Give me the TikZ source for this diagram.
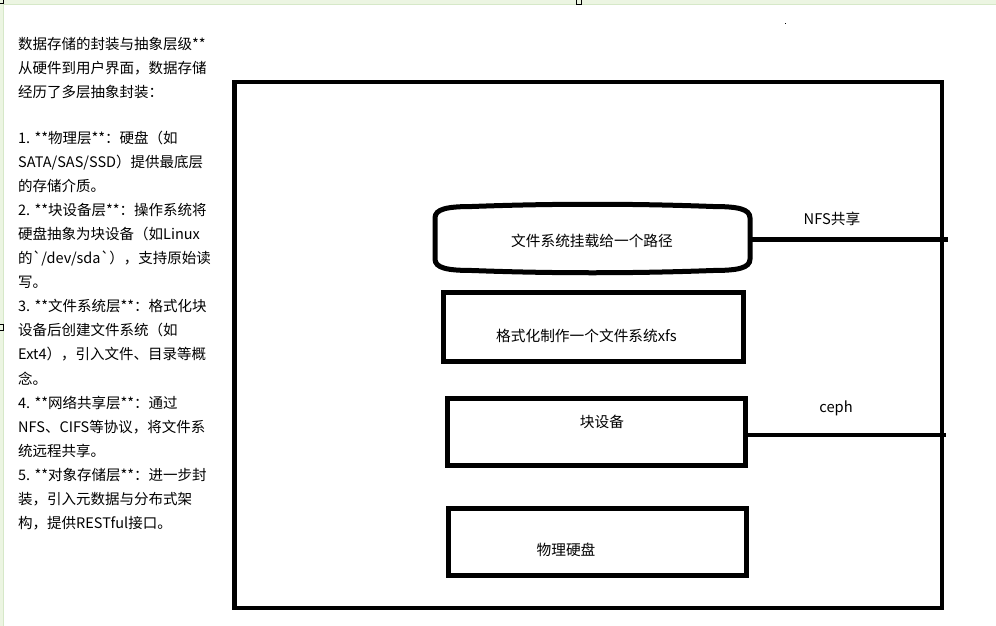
\documentclass[tikz,border=0pt]{standalone}
\usepackage{fontspec}
\newfontfamily\cjk{Noto Sans CJK SC}
\definecolor{bggreen}{RGB}{236,245,226}
\definecolor{bgline}{RGB}{214,232,200}
\begin{document}
\begin{tikzpicture}[x=1pt,y=-1pt,
  box/.style={draw, line width=5pt, inner sep=0pt},
  conn/.style={line width=4.5pt},
  lbl/.style={font=\cjk\fontsize{14.7}{17}\selectfont, inner sep=0pt, text height=12.5pt, text depth=1.5pt},
  lefttxt/.style={font=\cjk\fontsize{14.5}{17}\selectfont, inner sep=0pt, text height=12.5pt, text depth=1.5pt, anchor=west}]
\useasboundingbox (0,0) rectangle (996,626);
\fill[white] (0,0) rectangle (996,626);
% window background strips
\fill[bggreen] (0,0) rectangle (996,4.5);
\fill[bggreen] (0,0) rectangle (3,626);
\draw[line width=0.8pt, bgline] (3,4.5) -- (996,4.5);
\draw[line width=0.8pt, bgline] (3,4.5) -- (3,626);
\draw[line width=0.8pt] (0,3.5) -- (3.3,3.5) -- (3.3,0);
\draw[line width=0.8pt] (576.5,-1) rectangle (581.5,4);
\draw[line width=0.8pt] (-1,324.5) rectangle (3,330.5);
\fill (785,23.5) rectangle (786,24.5);

% left description text
\foreach \t [count=\i from 0] in {数据存储的封装与抽象层级**,从硬件到用户界面，数据存储,经历了多层抽象封装：}
  \node[lefttxt] (h\i) at (18,44+24*\i) {\t};
\foreach \t [count=\i from 0] in {%
  1. **物理层**：硬盘（如,
  SATA/SAS/SSD）提供最底层,
  的存储介质。,
  2. **块设备层**：操作系统将,
  硬盘抽象为块设备（如Linux,
  的`/dev/sda`），支持原始读,
  写。,
  3. **文件系统层**：格式化块,
  设备后创建文件系统（如,
  Ext4），引入文件、目录等概,
  念。,
  4. **网络共享层**：通过,
  NFS、CIFS等协议，将文件系,
  统远程共享。,
  5. **对象存储层**：进一步封,
  装，引入元数据与分布式架,
  构，提供RESTful接口。}
  \node[lefttxt] (l\i) at (18,137.5+24.1*\i) {\t};

% outer frame
\node[draw, line width=4.5pt, inner sep=0pt, minimum width=707.5pt, minimum height=525.5pt] (outer) at (588,345) {};

% mount (stadium) shape
\node[inner sep=0pt, minimum width=315pt, minimum height=65pt] (ell) at (592.5,238.5) {};
\draw[line width=5pt] (435,218) .. controls (435,209) and (447,206.5) .. (472,206.5)
  .. controls (552,203.5) and (633,203.5) .. (713,206.5)
  .. controls (738,206.5) and (750,209) .. (750,218) -- (750,259)
  .. controls (750,268) and (738,270.5) .. (713,270.5)
  .. controls (633,273.5) and (552,273.5) .. (472,270.5)
  .. controls (447,270.5) and (435,268) .. (435,259) -- cycle;
\node[lbl] (tmount) at (592,241) {文件系统挂载给一个路径};

% boxes
\node[box, minimum width=300pt, minimum height=69pt] (fmt) at (593.5,327) {};
\node[lbl] (tfmt) at (586.5,336) {格式化制作一个文件系统xfs};
\node[box, minimum width=298pt, minimum height=67pt] (blk) at (596.5,432) {};
\node[lbl] (tblk) at (602,421.5) {块设备};
\node[box, minimum width=298pt, minimum height=67pt] (disk) at (597.5,542) {};
\node[lbl] (tdisk) at (566,550) {物理硬盘};

% connectors
\coordinate (nfsend) at (948,239.5);
\coordinate (cephend) at (946,435);
\draw[conn] (ell.east |- nfsend) -- (nfsend);
\draw[conn] (blk.east |- cephend) -- (cephend);
\node[lbl] (nfs) at (832,219) {NFS共享};
\node[lbl] (ceph) at (836,407) {ceph};
\end{tikzpicture}
\end{document}
